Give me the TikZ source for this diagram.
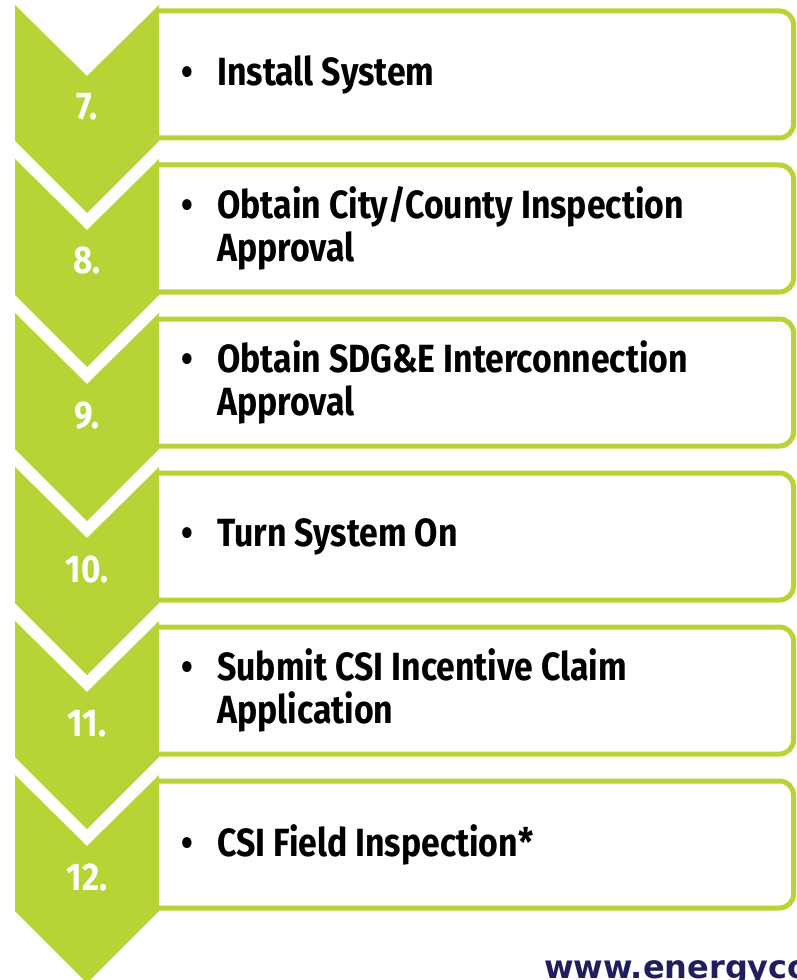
\documentclass[tikz,border=0pt]{standalone}
\usepackage{fontspec}
\setmainfont{Fira Sans}
\newfontfamily\stepfont[FakeStretch=0.86]{Fira Sans}
\newfontfamily\urlfont{DejaVu Sans}
\definecolor{leafgreen}{RGB}{181,212,53}
\definecolor{urlnavy}{RGB}{30,31,95}

\begin{document}
\begin{tikzpicture}[x=0.75pt,y=0.75pt,yscale=-1,xscale=1,
  chevron/.style={fill=leafgreen,draw=none},
  stepbox/.style={draw=leafgreen,line width=3.75pt,fill=white,rounded corners=10.5pt},
  stepnum/.style={text=white,font=\stepfont\bfseries\fontsize{29}{32}\selectfont,inner sep=0pt,anchor=base},
  steptext/.style={font=\stepfont\bfseries\fontsize{29.5}{32.25}\selectfont,align=left,inner sep=0pt,anchor=west}]
%uncomment if require: \path (0,980); %set diagram left start at 0, and has height of 980
\useasboundingbox (0,0) rectangle (796,980);
\clip (0,0) rectangle (796,980);

%Shape: Boxes (open on the left, hidden by the chevrons)
\draw[stepbox] (159,11) -- (793.5,11) -- (793.5,138) -- (159,138);
\draw[stepbox] (159,165) -- (793.5,165) -- (793.5,292) -- (159,292);
\draw[stepbox] (159,319) -- (793.5,319) -- (793.5,446) -- (159,446);
\draw[stepbox] (159,473) -- (793.5,473) -- (793.5,600) -- (159,600);
\draw[stepbox] (159,627) -- (793.5,627) -- (793.5,754) -- (159,754);
\draw[stepbox] (159,781) -- (793.5,781) -- (793.5,908) -- (159,908);

%Shape: Chevrons
\fill[chevron] (15,5) -- (87,76) -- (159,5) -- (159,141) -- (87,213) -- (15,141) -- cycle;
\fill[chevron] (15,159) -- (87,230) -- (159,159) -- (159,295) -- (87,367) -- (15,295) -- cycle;
\fill[chevron] (15,313) -- (87,384) -- (159,313) -- (159,449) -- (87,521) -- (15,449) -- cycle;
\fill[chevron] (15,467) -- (87,538) -- (159,467) -- (159,603) -- (87,675) -- (15,603) -- cycle;
\fill[chevron] (15,621) -- (87,692) -- (159,621) -- (159,757) -- (87,829) -- (15,757) -- cycle;
\fill[chevron] (15,775) -- (87,846) -- (159,775) -- (159,911) -- (87,983) -- (15,911) -- cycle;

% Text Node
\node[stepnum] (n7) at (87,120) {7.};
\node[stepnum] (n8) at (87,274) {8.};
\node[stepnum] (n9) at (87,428) {9.};
\node[stepnum] (n10) at (87,582) {10.};
\node[stepnum] (n11) at (87,736) {11.};
\node[stepnum] (n12) at (87,890) {12.};

% Text Node
\node[steptext] (t7) at (172,74.5) {\makebox[22.5pt]{\textbullet}\hspace{11.25pt}Install System};
\node[steptext] (t8) at (172,228.5) {\makebox[22.5pt]{\textbullet}\hspace{11.25pt}Obtain City/County Inspection\\\hspace*{33.75pt}Approval};
\node[steptext] (t9) at (172,382.5) {\makebox[22.5pt]{\textbullet}\hspace{11.25pt}Obtain SDG\&E Interconnection\\\hspace*{33.75pt}Approval};
\node[steptext] (t10) at (172,536.5) {\makebox[22.5pt]{\textbullet}\hspace{11.25pt}Turn System On};
\node[steptext] (t11) at (172,690.5) {\makebox[22.5pt]{\textbullet}\hspace{11.25pt}Submit CSI Incentive Claim\\\hspace*{33.75pt}Application};
\node[steptext] (t12) at (172,844.5) {\makebox[22.5pt]{\textbullet}\hspace{11.25pt}CSI Field Inspection*};

% Text Node
\node[anchor=base west,inner sep=0pt,text=urlnavy,font=\urlfont\bfseries\fontsize{24}{27}\selectfont] (web) at (544,978) {www.energyco};

\end{tikzpicture}
\end{document}
